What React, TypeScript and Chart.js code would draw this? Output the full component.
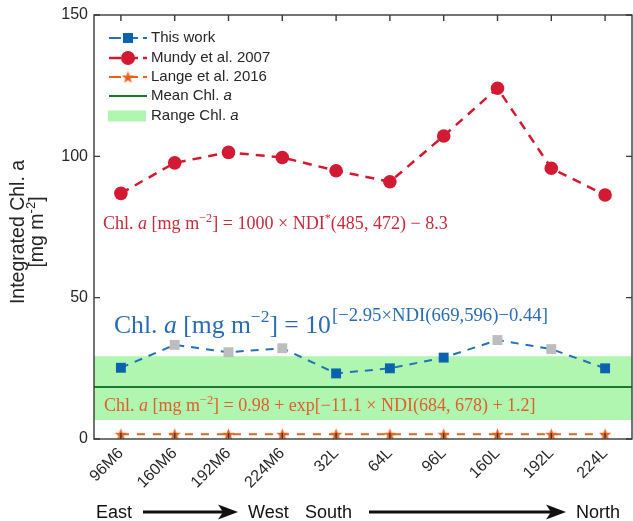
import React, { useEffect, useRef } from "react";
import { Chart, registerables } from "chart.js";

Chart.register(...registerables);

// ---------- data ----------
const categories = ["96M6", "160M6", "192M6", "224M6", "32L", "64L", "96L", "160L", "192L", "224L"];
const thisWork = [25.2, 33.3, 30.7, 32.1, 23.2, 25.0, 28.8, 35.0, 31.8, 25.0];
const thisWorkBlue = [true, false, false, false, true, true, true, false, false, true];
const mundy2007 = [86.9, 97.7, 101.4, 99.6, 94.9, 91.0, 107.2, 124.1, 95.8, 86.3];
const lange2016 = [1.7, 1.7, 1.7, 1.7, 1.7, 1.7, 1.7, 1.7, 1.7, 1.7];
const meanChl = 18.4;
const rangeChl = [6.7, 29.3];
const yTicks = [0, 50, 100, 150];
const legendLabels = ["This work", "Mundy et al. 2007", "Lange et al. 2016", "Mean Chl. ", "Range Chl. "];

// ---------- styles ----------
const BLUE_LINE = "#2372b8";
const BLUE_PT = "#0b63ad";
const GREY_PT = "#bdbdbd";
const RED = "#d21a32";
const ORANGE = "#e8621c";
const GREEN = "#1b7a30";
const BAND = "#b0f5b0";
const AX = "#3a3a3a";
const TXT = "#262626";
const SANS = "'Liberation Sans', Arial, Helvetica, sans-serif";
const SERIF = "'Liberation Serif', 'Times New Roman', serif";

function makeStar(size: number, color: string) {
  const c = document.createElement("canvas");
  c.width = size;
  c.height = size;
  const g = c.getContext("2d")!;
  const cx = size / 2, cy = size / 2 + 0.6;
  const R = size / 2, r = R * 0.42;
  g.beginPath();
  for (let i = 0; i < 10; i++) {
    const ang = -Math.PI / 2 + (i * Math.PI) / 5;
    const rr = i % 2 === 0 ? R : r;
    const px = cx + rr * Math.cos(ang);
    const py = cy + rr * Math.sin(ang);
    if (i === 0) g.moveTo(px, py);
    else g.lineTo(px, py);
  }
  g.closePath();
  g.fillStyle = color;
  g.fill();
  return c;
}

type Seg = { t: string; it?: boolean; sup?: boolean };

function drawRich(
  ctx: CanvasRenderingContext2D,
  segs: Seg[],
  x: number,
  y: number,
  targetW: number,
  color: string,
  family: string
) {
  const base = 20;
  const font = (s: Seg, size: number) => `${s.it ? "italic " : ""}${s.sup ? size * 0.68 : size}px ${family}`;
  let w = 0;
  for (const s of segs) {
    ctx.font = font(s, base);
    w += ctx.measureText(s.t).width;
  }
  const size = (base * targetW) / w;
  let cx = x;
  ctx.fillStyle = color;
  ctx.textAlign = "left";
  ctx.textBaseline = "alphabetic";
  for (const s of segs) {
    ctx.font = font(s, size);
    ctx.fillText(s.t, cx, s.sup ? y - size * 0.4 : y);
    cx += ctx.measureText(s.t).width;
  }
}

const redEq: Seg[] = [
  { t: "Chl. " }, { t: "a", it: true }, { t: " [mg m" }, { t: "−2", sup: true },
  { t: "] = 1000 × NDI" }, { t: "*", sup: true }, { t: "(485, 472) − 8.3" },
];
const blueMain: Seg[] = [{ t: "Chl. " }, { t: "a", it: true }, { t: " [mg m" }, { t: "−2", sup: true }, { t: "] = 10" }];
const blueExp: Seg[] = [{ t: "[−2.95×NDI(669,596)−0.44]" }];
const orangeEq: Seg[] = [
  { t: "Chl. " }, { t: "a", it: true }, { t: " [mg m" }, { t: "−2", sup: true },
  { t: "] = 0.98 + exp[−11.1 × NDI(684, 678) + 1.2]" },
];

const starImg = makeStar(13, ORANGE);

const decorPlugin = {
  id: "decor",
  afterDatasetsDraw(chart: any) {
    const ctx: CanvasRenderingContext2D = chart.ctx;
    const ys = chart.scales.y;
    const a = chart.chartArea;
    ctx.save();
    drawRich(ctx, redEq, a.left + 9, ys.getPixelForValue(74.3), 345, "#c8283d", SERIF);
    drawRich(ctx, blueMain, a.left + 20, ys.getPixelForValue(37.6), 217, "#2a6cb3", SERIF);
    drawRich(ctx, blueExp, a.left + 238, ys.getPixelForValue(41.6), 216, "#2a6cb3", SERIF);
    drawRich(ctx, orangeEq, a.left + 10, ys.getPixelForValue(9.9), 432, "#e0602a", SERIF);
    ctx.restore();
  },
  afterDraw(chart: any) {
    const ctx: CanvasRenderingContext2D = chart.ctx;
    const a = chart.chartArea;
    const xs = chart.scales.x;
    const ys = chart.scales.y;
    ctx.save();
    // box
    ctx.strokeStyle = AX;
    ctx.lineWidth = 1.4;
    ctx.strokeRect(a.left, a.top, a.right - a.left, a.bottom - a.top);
    // inward ticks
    ctx.beginPath();
    for (const v of yTicks) {
      const p = ys.getPixelForValue(v);
      ctx.moveTo(a.left, p);
      ctx.lineTo(a.left + 6, p);
      ctx.moveTo(a.right, p);
      ctx.lineTo(a.right - 6, p);
    }
    categories.forEach((_, i) => {
      const p = xs.getPixelForValue(i);
      ctx.moveTo(p, a.bottom);
      ctx.lineTo(p, a.bottom - 6);
      ctx.moveTo(p, a.top);
      ctx.lineTo(p, a.top + 6);
    });
    ctx.stroke();

    // legend
    const lx0 = a.left + 15, lx1 = a.left + 53, lxm = (lx0 + lx1) / 2;
    const tx = a.left + 57;
    const rows = [38, 58, 77, 96, 116];
    ctx.font = `15px ${SANS}`;
    ctx.textBaseline = "middle";
    ctx.textAlign = "left";
    const dashLine = (y: number, color: string, w: number, dash: number[]) => {
      ctx.save();
      ctx.strokeStyle = color;
      ctx.lineWidth = w;
      ctx.setLineDash(dash);
      ctx.beginPath();
      ctx.moveTo(lx0, y);
      ctx.lineTo(lx1, y);
      ctx.stroke();
      ctx.restore();
    };
    dashLine(rows[0], BLUE_LINE, 2, [12, 5]);
    ctx.fillStyle = BLUE_PT;
    ctx.fillRect(lxm - 5, rows[0] - 5, 10, 10);
    dashLine(rows[1], RED, 2.4, [12, 5]);
    ctx.fillStyle = RED;
    ctx.beginPath();
    ctx.arc(lxm, rows[1], 7, 0, Math.PI * 2);
    ctx.fill();
    dashLine(rows[2], ORANGE, 2, [12, 5]);
    ctx.drawImage(starImg, lxm - starImg.width / 2, rows[2] - starImg.height / 2);
    ctx.strokeStyle = GREEN;
    ctx.lineWidth = 2;
    ctx.beginPath();
    ctx.moveTo(lx0, rows[3]);
    ctx.lineTo(lx1, rows[3]);
    ctx.stroke();
    ctx.fillStyle = BAND;
    ctx.fillRect(lx0 - 1, rows[4] - 5.5, lx1 - lx0, 11);
    ctx.fillStyle = TXT;
    legendLabels.forEach((l, i) => {
      ctx.font = `15px ${SANS}`;
      ctx.fillText(l, tx, rows[i]);
      if (i >= 3) {
        const w = ctx.measureText(l).width;
        ctx.font = `italic 15px ${SANS}`;
        ctx.fillText("a", tx + w, rows[i]);
      }
    });

    // y-axis title
    ctx.save();
    const cy = (ys.getPixelForValue(0) + ys.getPixelForValue(150)) / 2 + 5;
    ctx.translate(24, cy);
    ctx.rotate(-Math.PI / 2);
    ctx.fillStyle = TXT;
    ctx.textAlign = "center";
    ctx.textBaseline = "alphabetic";
    const fs = 19.5;
    ctx.font = `${fs}px ${SANS}`;
    ctx.fillText("Integrated Chl. a", 0, 0);
    const p1 = "[mg m", p2 = "-2", p3 = "]";
    const w1 = ctx.measureText(p1).width;
    const w3 = ctx.measureText(p3).width;
    ctx.font = `13px ${SANS}`;
    const w2 = ctx.measureText(p2).width;
    let sx = -(w1 + w2 + w3) / 2;
    ctx.textAlign = "left";
    ctx.font = `${fs}px ${SANS}`;
    ctx.fillText(p1, sx, 19);
    sx += w1;
    ctx.font = `13px ${SANS}`;
    ctx.fillText(p2, sx, 11);
    sx += w2;
    ctx.font = `${fs}px ${SANS}`;
    ctx.fillText(p3, sx, 19);
    ctx.restore();

    // bottom direction annotations
    ctx.fillStyle = "#111";
    ctx.font = `18px ${SANS}`;
    ctx.textBaseline = "alphabetic";
    ctx.textAlign = "left";
    const by = 518;
    ctx.fillText("East", 96, by);
    ctx.fillText("West", 248, by);
    ctx.fillText("South", 305, by);
    ctx.fillText("North", 576, by);
    const arrow = (x1: number, x2: number, y: number) => {
      ctx.strokeStyle = "#111";
      ctx.lineWidth = 3;
      ctx.beginPath();
      ctx.moveTo(x1, y);
      ctx.lineTo(x2 - 14, y);
      ctx.stroke();
      ctx.fillStyle = "#111";
      ctx.beginPath();
      ctx.moveTo(x2, y);
      ctx.lineTo(x2 - 20, y - 7.5);
      ctx.lineTo(x2 - 15, y);
      ctx.lineTo(x2 - 20, y + 7.5);
      ctx.closePath();
      ctx.fill();
    };
    arrow(143, 238, 512);
    arrow(369, 566, 512);
    ctx.restore();
  },
};

export default function App() {
  const ref = useRef<HTMLCanvasElement | null>(null);
  useEffect(() => {
    if (!ref.current) return;
    const chart = new Chart(ref.current, {
      type: "line",
      data: {
        labels: categories,
        datasets: [
          {
            label: "Range Chl. a",
            data: [{ x: 0, y: rangeChl[1] }, { x: 1, y: rangeChl[1] }],
            xAxisID: "x2",
            borderWidth: 0,
            borderColor: "rgba(0,0,0,0)",
            backgroundColor: BAND,
            pointRadius: 0,
            fill: { value: rangeChl[0] },
            order: 10,
          } as any,
          {
            label: "Mean Chl. a",
            data: [{ x: 0, y: meanChl }, { x: 1, y: meanChl }],
            xAxisID: "x2",
            borderColor: GREEN,
            borderWidth: 2,
            pointRadius: 0,
            fill: false,
            order: 9,
          } as any,
          {
            label: "Lange et al. 2016",
            data: lange2016,
            borderColor: ORANGE,
            borderWidth: 2,
            borderDash: [8, 8],
            pointStyle: starImg,
            pointRadius: 6,
            fill: false,
            order: 3,
          } as any,
          {
            label: "This work",
            data: thisWork,
            borderColor: BLUE_LINE,
            borderWidth: 2,
            borderDash: [8, 7],
            pointStyle: "rect",
            pointRadius: 7,
            pointBorderWidth: 0,
            pointBackgroundColor: thisWorkBlue.map((b) => (b ? BLUE_PT : GREY_PT)),
            pointBorderColor: thisWorkBlue.map((b) => (b ? BLUE_PT : GREY_PT)),
            fill: false,
            order: 2,
          } as any,
          {
            label: "Mundy et al. 2007",
            data: mundy2007,
            borderColor: RED,
            borderWidth: 2.5,
            borderDash: [9, 7],
            pointStyle: "circle",
            pointRadius: 6.8,
            pointBorderWidth: 0,
            pointBackgroundColor: RED,
            pointBorderColor: RED,
            fill: false,
            order: 1,
          } as any,
        ],
      },
      options: {
        animation: false,
        responsive: false,
        layout: { autoPadding: false, padding: { top: 15, right: 1, left: 0, bottom: 0 } },
        plugins: { legend: { display: false }, tooltip: { enabled: false }, title: { display: false } },
        scales: {
          x: {
            type: "category",
            offset: true,
            grid: { display: false, drawTicks: false },
            border: { display: false },
            ticks: {
              autoSkip: false,
              minRotation: 45,
              maxRotation: 45,
              padding: 5,
              color: TXT,
              font: { size: 16, family: SANS },
            },
            afterFit: (s: any) => {
              s.height = 82;
              s.paddingLeft = 0;
              s.paddingRight = 0;
            },
          },
          x2: { type: "linear", min: 0, max: 1, display: false },
          y: {
            min: 0,
            max: 150,
            grid: { display: false, drawTicks: false },
            border: { display: false },
            afterBuildTicks: (s: any) => {
              s.ticks = yTicks.map((v) => ({ value: v }));
            },
            ticks: { padding: 6, color: TXT, font: { size: 16, family: SANS } },
            afterFit: (s: any) => {
              s.width = 94;
              s.paddingTop = 0;
              s.paddingBottom = 0;
            },
          },
        },
      } as any,
      plugins: [decorPlugin],
    });
    return () => chart.destroy();
  }, []);
  return (
    <div style={{ position: "absolute", left: 0, top: 0, width: 633, height: 521, background: "#fff" }}>
      <canvas ref={ref} width={633} height={521} />
    </div>
  );
}
